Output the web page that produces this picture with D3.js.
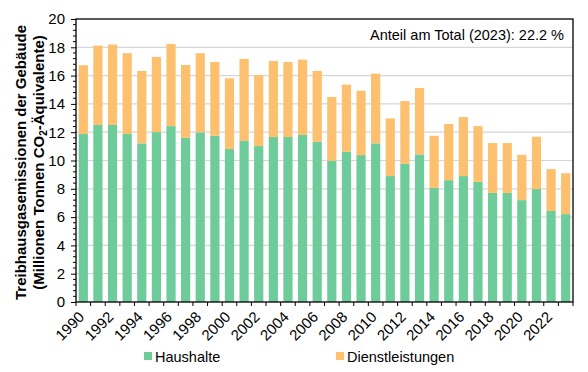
<!DOCTYPE html>
<html>
<head>
<meta charset="utf-8">
<script src="https://cdn.jsdelivr.net/npm/d3@7"></script>
<style>
  body { margin: 0; background: #fff; }
  text { font-family: "Liberation Sans", Arial, sans-serif; fill: #000; }
</style>
</head>
<body>
<div id="chart"></div>
<script>
const years = d3.range(1990, 2024);

// Haushalte (households), Mio t CO2-eq
const haushalte = [11.87, 12.51, 12.51, 11.87, 11.21, 12.01, 12.43, 11.61, 11.99, 11.75,
    10.81, 11.39, 11.02, 11.66, 11.66, 11.81, 11.32, 9.98, 10.62, 10.38,
    11.21, 8.90, 9.77, 10.43, 8.06, 8.61, 8.90, 8.49, 7.71, 7.71,
    7.20, 7.98, 6.43, 6.21];

// totals
const totals = [16.73, 18.12, 18.19, 17.58, 16.33, 17.32, 18.24, 16.75, 17.58, 16.96,
    15.81, 17.18, 16.04, 17.03, 16.96, 17.13, 16.33, 14.49, 15.36, 14.93,
    16.14, 12.98, 14.20, 15.12, 11.75, 12.58, 13.07, 12.43, 11.23, 11.23,
    10.40, 11.68, 9.39, 9.10];

const dienstleistungen = totals.map((t, i) => +(t - haushalte[i]).toFixed(2));

const seriesNames = ['Haushalte', 'Dienstleistungen'];
const colors = ['#6ecc9a', '#fcc06e'];
const yTicks = d3.range(0, 21, 2);
const note = 'Anteil am Total (2023): 22.2 %';

const svgWidth = 588, svgHeight = 372;
const margin = { top: 19, right: 15, bottom: 70, left: 76 };
const width = svgWidth - margin.left - margin.right;
const height = svgHeight - margin.top - margin.bottom;

const svg = d3.select('#chart')
    .append('svg')
    .attr('width', svgWidth)
    .attr('height', svgHeight);

const bounds = svg.append('g')
    .attr('transform', `translate(${margin.left}, ${margin.top})`);

const xScale = d3.scaleBand()
    .domain(years)
    .range([0, width])
    .padding(0);

const yScale = d3.scaleLinear()
    .domain([0, 20])
    .range([height, 0]);

const data = years.map((y, i) => ({ year: y, Haushalte: haushalte[i], Dienstleistungen: dienstleistungen[i] }));
const stacked = d3.stack().keys(seriesNames)(data);

// gridlines
bounds.append('g')
    .selectAll('line')
    .data(yTicks.filter(d => d > 0 && d < 20))
    .join('line')
    .attr('x1', 0)
    .attr('x2', width)
    .attr('y1', d => yScale(d))
    .attr('y2', d => yScale(d))
    .attr('stroke', '#d6d6d6')
    .attr('stroke-width', 1.2);

// bars
const barW = xScale.bandwidth() * 0.63;
bounds.append('g')
    .selectAll('g')
    .data(stacked)
    .join('g')
    .attr('fill', (d, i) => colors[i])
    .selectAll('rect')
    .data(d => d)
    .join('rect')
    .attr('x', d => xScale(d.data.year) + (xScale.bandwidth() - barW) / 2)
    .attr('width', barW)
    .attr('y', d => yScale(d[1]))
    .attr('height', d => yScale(d[0]) - yScale(d[1]));

// minor y ticks
bounds.append('g')
    .selectAll('line')
    .data(d3.range(0, 20.01, 0.4).filter(d => Math.abs(d / 2 - Math.round(d / 2)) > 0.01))
    .join('line')
    .attr('x1', -3)
    .attr('x2', 0)
    .attr('y1', d => yScale(d))
    .attr('y2', d => yScale(d))
    .attr('stroke', '#000');

// y axis
const yAxisGroup = bounds.append('g')
    .call(d3.axisLeft(yScale)
        .tickValues(yTicks)
        .tickSize(5)
        .tickPadding(6)
        .tickFormat(d => d));
yAxisGroup.select('.domain').remove();
yAxisGroup.selectAll('text').style('font-size', '15px').style('font-family', '"Liberation Sans", Arial, sans-serif');

// x axis ticks at band boundaries
const xAxisGroup = bounds.append('g')
    .attr('transform', `translate(0, ${height})`);
xAxisGroup.selectAll('line')
    .data(years.concat([2024]))
    .join('line')
    .attr('x1', d => d === 2024 ? width : xScale(d))
    .attr('x2', d => d === 2024 ? width : xScale(d))
    .attr('y1', 0)
    .attr('y2', 4)
    .attr('stroke', '#000');

xAxisGroup.selectAll('text')
    .data(years.filter(y => y % 2 === 0))
    .join('text')
    .attr('transform', d => `translate(${xScale(d) + xScale.bandwidth() / 2 - 6}, 8) rotate(-45)`)
    .attr('text-anchor', 'end')
    .attr('dy', '0.75em')
    .style('font-size', '15px')
    .text(d => d);

// frame
bounds.append('rect')
    .attr('x', 0)
    .attr('y', 0)
    .attr('width', width)
    .attr('height', height)
    .attr('fill', 'none')
    .attr('stroke', '#000')
    .attr('stroke-width', 1.3);

// note
bounds.append('text')
    .attr('x', width - 9)
    .attr('y', 21)
    .attr('text-anchor', 'end')
    .style('font-size', '14.5px')
    .text(note);

// y title
const yTitle = svg.append('text')
    .attr('transform', `translate(0, ${margin.top + height / 2 + 2}) rotate(-90)`)
    .attr('text-anchor', 'middle')
    .style('font-size', '15px')
    .style('font-weight', 'bold');
yTitle.append('tspan').attr('x', 0).attr('y', 26).text('Treibhausgasemissionen der Gebäude');
const l2 = yTitle.append('tspan').attr('x', 0).attr('y', 44);
l2.append('tspan').text('(Millionen  Tonnen CO');
l2.append('tspan').attr('dy', 3).style('font-size', '10px').text('2');
l2.append('tspan').attr('dy', -3).text('-Äquivalente)');

// legend
const legendPos = [144, 336];
const legend = svg.append('g')
    .selectAll('g')
    .data(seriesNames)
    .join('g')
    .attr('transform', (d, i) => `translate(${legendPos[i]}, 352)`);
legend.append('rect')
    .attr('width', 8)
    .attr('height', 8)
    .attr('fill', (d, i) => colors[i]);
legend.append('text')
    .attr('x', 11)
    .attr('y', 9.5)
    .style('font-size', '14.5px')
    .text(d => d);
</script>
</body>
</html>
